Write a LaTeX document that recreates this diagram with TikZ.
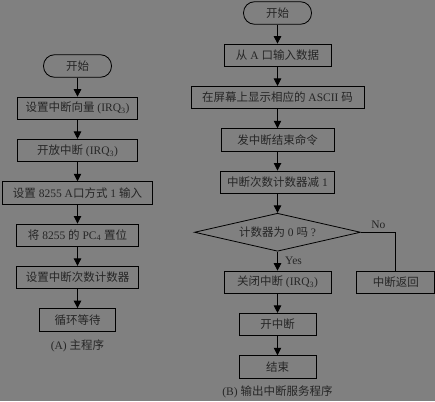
\documentclass[tikz,border=0pt]{standalone}
\usepackage{fontspec}
\setmainfont{Liberation Serif}
\newfontfamily\zh{Noto Sans CJK SC}
\usepackage{xcolor}
\usepackage{tikz}
\usetikzlibrary{positioning,shapes.geometric,arrows.meta}
\definecolor{bgray}{RGB}{128,128,128}
\definecolor{ink}{RGB}{38,38,38}

\begin{document}
\begin{tikzpicture}[x=1pt,y=1pt,node distance=19pt,
            font=\fontsize{11.5}{13}\selectfont,
            box/.style={draw=black,fill=bgray,text=ink,line width=0.8pt,minimum height=22.5pt,inner sep=2pt},
            term/.style={box,rounded corners=11pt,minimum width=68pt},
            test/.style={box,diamond,aspect=4.4,minimum width=166pt,minimum height=38pt,inner sep=0pt},
            flow/.style={-{Triangle[length=7.5pt,width=7.5pt]},black,line width=0.8pt}]
        \fill[bgray] (0,0) rectangle (435,-401);
        \useasboundingbox (0,0) rectangle (435,-401);

        \node[term] (startA) at (77.5,-66) {\zh 开始};
        \node[box,minimum width=120pt,below=of startA] (vec) {{\zh 设置中断向量} (IRQ\textsubscript{3})};
        \node[box,minimum width=120pt,below=of vec] (ena) {{\zh 开放中断} (IRQ\textsubscript{3})};
        \node[box,minimum width=150pt,below=of ena] (mode) {{\zh 设置} 8255 A{\zh 口方式} 1 {\zh 输入}};
        \node[box,minimum width=122pt,below=of mode] (pc) {{\zh 将} 8255 {\zh 的} PC\textsubscript{4} {\zh 置位}};
        \node[box,minimum width=122pt,below=of pc] (cnt) {\zh 设置中断次数计数器};
        \node[box,minimum width=76pt,below=of cnt] (wait) {\zh 循环等待};
        \node[text=ink,below=5pt of wait] (capA) {(A) {\zh 主程序}};

        \node[term] (startB) at (277.5,-13) {\zh 开始};
        \node[box,minimum width=107pt,below=of startB] (rd) {{\zh 从} A {\zh 口输入数据}};
        \node[box,minimum width=173pt,below=of rd] (disp) {{\zh 在屏幕上显示相应的} ASCII {\zh 码}};
        \node[box,minimum width=113pt,below=of disp] (eoi) {\zh 发中断结束命令};
        \node[box,minimum width=114pt,below=of eoi] (dec) {{\zh 中断次数计数器减} 1};
        \node[test,below=of dec] (zero) {{\zh 计数器为} 0 {\zh 吗} ?};
        \node[box,minimum width=107pt,below=of zero] (off) {{\zh 关闭中断} (IRQ\textsubscript{3})};
        \node[box,minimum width=78pt,right=25pt of off] (ret) {\zh 中断返回};
        \node[box,minimum width=77pt,below=of off] (on) {\zh 开中断};
        \node[box,minimum width=77pt,below=of on] (fin) {\zh 结束};
        \node[text=ink,below=4pt of fin] (capB) {(B) {\zh 输出中断服务程序}};

        \draw[flow] (startA) -- (vec);
        \draw[flow] (vec) -- (ena);
        \draw[flow] (ena) -- (mode);
        \draw[flow] (mode) -- (pc);
        \draw[flow] (pc) -- (cnt);
        \draw[flow] (cnt) -- (wait);

        \draw[flow] (startB) -- (rd);
        \draw[flow] (rd) -- (disp);
        \draw[flow] (disp) -- (eoi);
        \draw[flow] (eoi) -- (dec);
        \draw[flow] (dec) -- (zero);
        \draw[flow] (zero) -- node[right=4pt,text=ink] {Yes} (off);
        \draw[black,line width=0.8pt] (zero.east) -- node[above,text=ink] {No} (zero.east -| ret) -- (ret.north);
        \draw[flow] (off) -- (on);
        \draw[flow] (on) -- (fin);
    \end{tikzpicture}
\end{document}
